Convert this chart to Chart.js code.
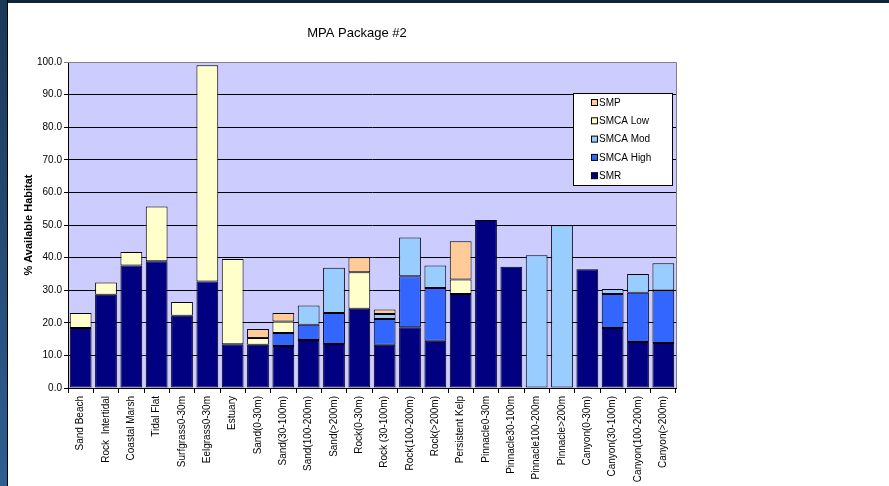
<!DOCTYPE html>
<html>
<head>
<meta charset="utf-8">
<title>MPA Package #2</title>
<script src="https://cdn.jsdelivr.net/npm/chart.js@4"></script>
<style>
  html, body { margin: 0; padding: 0; background: #fff; }
  .wrap { position: relative; width: 889px; height: 486px; overflow: hidden; background: #fff; }
  .topbar { position: absolute; left: 0; top: 0; width: 889px; height: 3px; background: #10243a; }
  .leftbar { position: absolute; left: 0; top: 0; width: 7px; height: 486px;
             background: linear-gradient(#1b3858, #2d5f93); border-right: 1px solid #000; }
  canvas { position: absolute; left: 0; top: 0; }
</style>
</head>
<body>
<div class="wrap">
  <div class="topbar"></div>
  <div class="leftbar"></div>
  <canvas id="chart" width="889" height="486"></canvas>
</div>
<script>
const chartTitle = 'MPA Package #2'
const yTitle = '% Available Habitat'

const categories = ['Sand Beach', 'Rock  Intertidal', 'Coastal Marsh', 'Tidal Flat', 'Surfgrass0-30m',
  'Eelgrass0-30m', 'Estuary', 'Sand(0-30m)', 'Sand(30-100m)', 'Sand(100-200m)', 'Sand(>200m)',
  'Rock(0-30m)', 'Rock (30-100m)', 'Rock(100-200m)', 'Rock(>200m)', 'Persistent Kelp',
  'Pinnacle0-30m', 'Pinnacle30-100m', 'Pinnacle100-200m', 'Pinnacle>200m',
  'Canyon(0-30m)', 'Canyon(30-100m)', 'Canyon(100-200m)', 'Canyon(>200m)']

// segment heights, bottom to top
const smr      = [18.4, 28.6, 37.6, 38.9, 22.2, 32.7, 13.4, 13.3, 12.9, 14.7, 13.5, 24.3, 13.3, 18.6, 14.5, 28.8, 51.5, 37.2, null, null, 36.4, 18.4, 14.1, 13.8]
const smcaHigh = [null, null, null, null, null, null, null, null, 4.0, 4.7, 9.5, null, 7.9, 15.7, 16.2, null, null, null, null, null, null, 10.4, 15.1, 16.1]
const smcaMod  = [null, null, null, null, null, null, null, null, null, 5.9, 13.9, null, 1.5, 11.9, 6.9, null, null, null, 40.7, 49.9, null, 1.6, 5.8, 8.4]
const smcaLow  = [4.6, 3.8, 4.1, 16.8, 4.2, 66.3, 26.2, 2.0, 3.5, null, null, 11.2, null, null, null, 4.5, null, null, null, null, null, null, null, null]
const smp      = [null, null, null, null, null, null, null, 2.8, 2.6, null, null, 4.6, 1.4, null, null, 11.7, null, null, null, null, null, null, null, null]

const yTicks = [0, 10, 20, 30, 40, 50, 60, 70, 80, 90, 100]

const FONT = '"Liberation Sans", Arial, sans-serif'

const mk = (label, data, color) => ({
  label: label,
  data: data,
  backgroundColor: color,
  borderColor: '#000000',
  borderWidth: 1,
  borderSkipped: false,
  barPercentage: 0.86,
  categoryPercentage: 1.0
})

// lavender plot area + grey frame, title and the boxed legend inside the plot
const plotDeco = {
  id: 'plotDeco',
  beforeDraw(chart) {
    const { ctx, chartArea: a } = chart
    ctx.save()
    ctx.fillStyle = '#ccccff'
    ctx.fillRect(a.left, a.top, a.right - a.left, a.bottom - a.top)
    ctx.restore()
  },
  afterDraw(chart) {
    const { ctx, chartArea: a } = chart
    ctx.save()
    ctx.strokeStyle = '#808080'
    ctx.lineWidth = 1
    ctx.beginPath()
    ctx.moveTo(a.left, a.top + 0.5)
    ctx.lineTo(a.right + 0.5, a.top + 0.5)
    ctx.lineTo(a.right + 0.5, a.bottom)
    ctx.stroke()

    // title
    ctx.fillStyle = '#000'
    ctx.font = '13px ' + FONT
    ctx.textAlign = 'center'
    ctx.textBaseline = 'middle'
    ctx.fillText(chartTitle, 357, 33)

    // legend box
    const bx = 573.5, by = 93.5, bw = 99, bh = 92
    ctx.fillStyle = '#fff'
    ctx.fillRect(bx, by, bw, bh)
    ctx.strokeStyle = '#000'
    ctx.strokeRect(bx, by, bw, bh)
    ctx.font = '10px ' + FONT
    ctx.textAlign = 'left'
    const ds = chart.data.datasets.slice().reverse()
    ds.forEach((d, i) => {
      const y = 103 + i * 18.3
      ctx.fillStyle = d.backgroundColor
      ctx.fillRect(591.5, y - 3.5, 6, 6)
      ctx.strokeStyle = '#000'
      ctx.strokeRect(591.5, y - 3.5, 6, 6)
      ctx.fillStyle = '#000'
      ctx.fillText(d.label, 599, y)
    })
    ctx.restore()
  }
}

const config = {
  type: 'bar',
  data: {
    labels: categories,
    datasets: [
      mk('SMR', smr, '#000080'),
      mk('SMCA High', smcaHigh, '#3366ff'),
      mk('SMCA Mod', smcaMod, '#99ccff'),
      mk('SMCA Low', smcaLow, '#ffffcc'),
      mk('SMP', smp, '#ffcc99')
    ]
  },
  options: {
    responsive: false,
    animation: false,
    devicePixelRatio: 1,
    layout: { padding: { top: 62, right: 213, bottom: 0, left: 0 } },
    plugins: {
      legend: { display: false },
      title: { display: false },
      tooltip: { enabled: false }
    },
    scales: {
      x: {
        stacked: true,
        afterFit: (s) => { s.height = 98 },
        grid: { display: true, drawOnChartArea: false, offset: true, tickLength: 5, color: '#000' },
        border: { color: '#000' },
        ticks: {
          autoSkip: false,
          minRotation: 90,
          maxRotation: 90,
          padding: 3,
          color: '#000',
          font: { family: FONT, size: 10 }
        }
      },
      y: {
        stacked: true,
        min: 0,
        max: 100,
        afterFit: (s) => { s.width = 68 },
        afterBuildTicks: (s) => { s.ticks = yTicks.map(v => ({ value: v })) },
        grid: {
          color: (c) => c.tick && c.tick.value === 100 ? '#808080' : '#000',
          tickLength: 4
        },
        border: { color: '#000' },
        ticks: {
          padding: 2,
          color: '#000',
          font: { family: FONT, size: 10 },
          callback: (v) => Number(v).toFixed(1)
        },
        title: {
          display: true,
          text: yTitle,
          color: '#000',
          padding: { top: 22, bottom: 0 },
          font: { family: FONT, size: 11, weight: 'bold' }
        }
      }
    }
  },
  plugins: [plotDeco]
}

const chart = new Chart(document.getElementById('chart'), config)
</script>
</body>
</html>
